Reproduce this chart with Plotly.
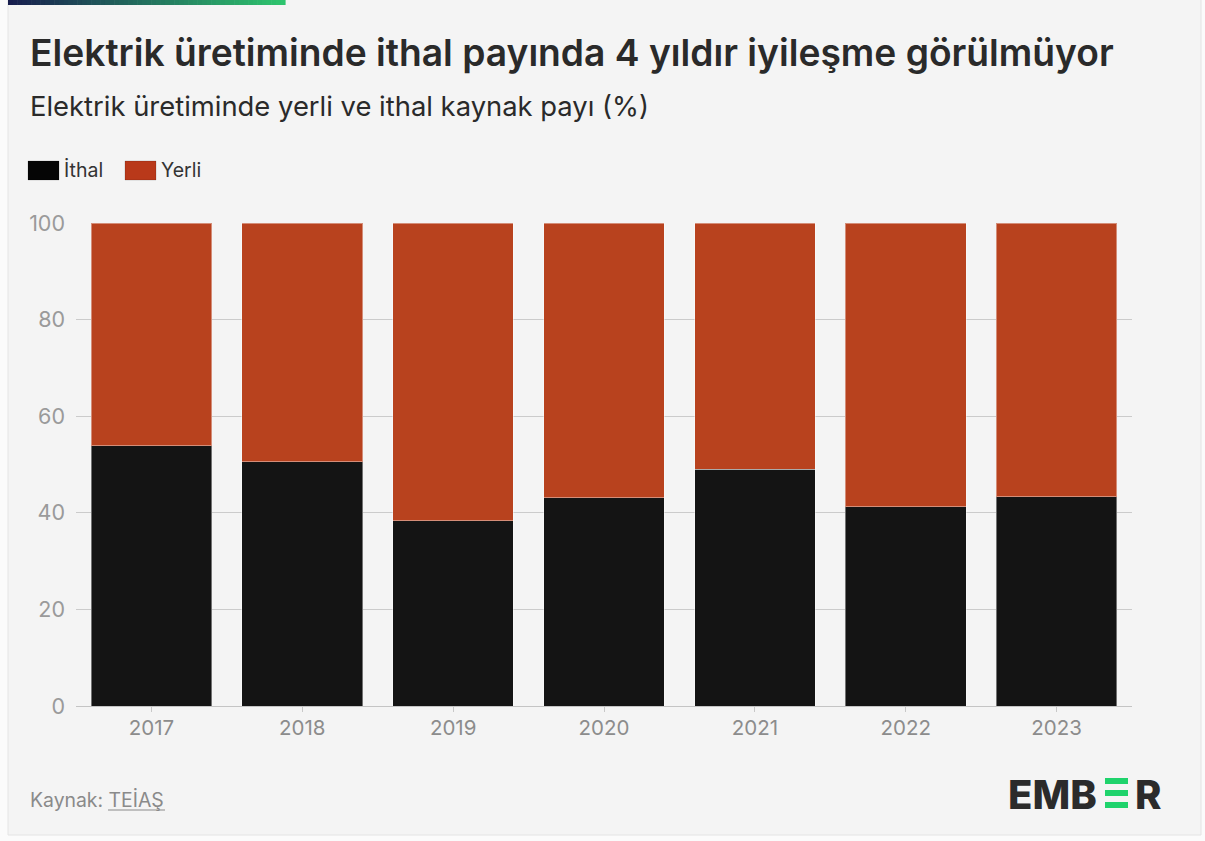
import plotly.graph_objects as go

# Elektrik üretiminde yerli ve ithal kaynak payı (%)
years = ["2017", "2018", "2019", "2020", "2021", "2022", "2023"]
ithal = [53.9, 50.6, 38.4, 43.1, 49.0, 41.3, 43.3]
yerli = [round(100 - v, 1) for v in ithal]
y_ticks = [0, 20, 40, 60, 80, 100]

W, H = 1205, 841
L, R, T, B = 76, 73, 223, 135
PW, PH = W - L - R, H - T - B

FONT = "Inter"
BLACK = "#141414"
RED = "#b8421e"


def px_x(px):
    return (px - L) / PW


def px_y(py):
    return (H - B - py) / PH


fig = go.Figure()
fig.add_trace(go.Bar(
    x=years, y=ithal, name="İthal",
    marker=dict(color=BLACK, line=dict(color="rgba(255,255,255,0.4)", width=1)),
    showlegend=False,
))
fig.add_trace(go.Bar(
    x=years, y=yerli, name="Yerli",
    marker=dict(color=RED, line=dict(color="rgba(255,255,255,0.4)", width=1)),
    showlegend=False,
))

shapes = []
annotations = []

# card background and border
shapes.append(dict(type="rect", xref="paper", yref="paper", layer="below",
                   x0=px_x(8), x1=px_x(1201), y0=px_y(835), y1=px_y(-5),
                   fillcolor="#f4f4f4", line=dict(color="#e4e4e4", width=1)))

# gradient strip along the top edge
n = 60
c0, c1 = (24, 30, 78), (46, 196, 110)
x_start, x_end = 8, 285
for i in range(n):
    t = i / (n - 1)
    col = tuple(round(c0[k] + (c1[k] - c0[k]) * t) for k in range(3))
    xa = x_start + (x_end - x_start) * i / n
    xb = x_start + (x_end - x_start) * (i + 1) / n + 0.6
    shapes.append(dict(type="rect", xref="paper", yref="paper",
                       x0=px_x(xa), x1=px_x(xb), y0=px_y(5), y1=px_y(0),
                       fillcolor="rgb(%d,%d,%d)" % col, line=dict(width=0)))

# title and subtitle
annotations.append(dict(text="Elektrik üretiminde ithal payında 4 yıldır iyileşme görülmüyor",
                        xref="paper", yref="paper", x=px_x(28), y=px_y(52),
                        xanchor="left", yanchor="middle", showarrow=False,
                        font=dict(family=FONT, size=37.2, color="#2a2a2a", weight=600)))
annotations.append(dict(text="Elektrik üretiminde yerli ve ithal kaynak payı (%)",
                        xref="paper", yref="paper", x=px_x(28), y=px_y(106),
                        xanchor="left", yanchor="middle", showarrow=False,
                        font=dict(family=FONT, size=27.4, color="#2a2a2a")))

# legend
legend_items = [("İthal", "#050505", 28, 62), ("Yerli", "#b9391a", 125, 159)]
for label, col, sx, tx in legend_items:
    shapes.append(dict(type="rect", xref="paper", yref="paper",
                       x0=px_x(sx), x1=px_x(sx + 31), y0=px_y(180), y1=px_y(161),
                       fillcolor=col, line=dict(color="rgba(0,0,0,0.15)", width=1)))
    annotations.append(dict(text=label, xref="paper", yref="paper",
                            x=px_x(tx), y=px_y(170), xanchor="left", yanchor="middle",
                            showarrow=False,
                            font=dict(family=FONT, size=19.5, color="#333333")))

# source line
annotations.append(dict(text="Kaynak: TEİAŞ", xref="paper", yref="paper",
                        x=px_x(28), y=px_y(800), xanchor="left", yanchor="middle",
                        showarrow=False, font=dict(family=FONT, size=19.4, color="#8a8a8a")))
shapes.append(dict(type="line", xref="paper", yref="paper",
                   x0=px_x(108), x1=px_x(165), y0=px_y(810), y1=px_y(810),
                   line=dict(color="#8a8a8a", width=1)))

# logo
annotations.append(dict(text="EMB", xref="paper", yref="paper",
                        x=px_x(1099), y=px_y(794), xanchor="right", yanchor="middle",
                        showarrow=False,
                        font=dict(family=FONT, size=40, color="#2b2b2b", weight=800)))
annotations.append(dict(text="R", xref="paper", yref="paper",
                        x=px_x(1133), y=px_y(794), xanchor="left", yanchor="middle",
                        showarrow=False,
                        font=dict(family=FONT, size=40, color="#2b2b2b", weight=800)))
for y0 in (778, 790, 802):
    shapes.append(dict(type="rect", xref="paper", yref="paper",
                       x0=px_x(1105), x1=px_x(1128), y0=px_y(y0 + 6), y1=px_y(y0),
                       fillcolor="#1fd36c", line=dict(width=0)))

fig.update_layout(
    width=W, height=H,
    margin=dict(l=L, r=R, t=T, b=B, pad=0),
    paper_bgcolor="#fbfbfb",
    plot_bgcolor="rgba(0,0,0,0)",
    barmode="stack",
    bargap=0.2,
    shapes=shapes,
    annotations=annotations,
    font=dict(family=FONT),
    xaxis=dict(
        type="category", range=[-0.5, 6.5],
        showgrid=False, zeroline=False,
        showline=False,
        ticks="outside", ticklen=5, tickcolor="#c8c8c8", tickwidth=1,
        ticklabelstandoff=-2,
        tickfont=dict(family=FONT, size=20.5, color="#8c8c8c"),
        fixedrange=True,
    ),
    yaxis=dict(
        range=[0, 100], tickvals=y_ticks,
        showgrid=True, gridcolor="#cbcbcb", gridwidth=1,
        zeroline=True, zerolinecolor="#c4c4c4", zerolinewidth=1,
        showline=False, ticks="",
        ticklabelstandoff=10,
        tickfont=dict(family=FONT, size=21.5, color="#9a9a9a"),
        fixedrange=True,
    ),
)

fig.write_html("out.html")
